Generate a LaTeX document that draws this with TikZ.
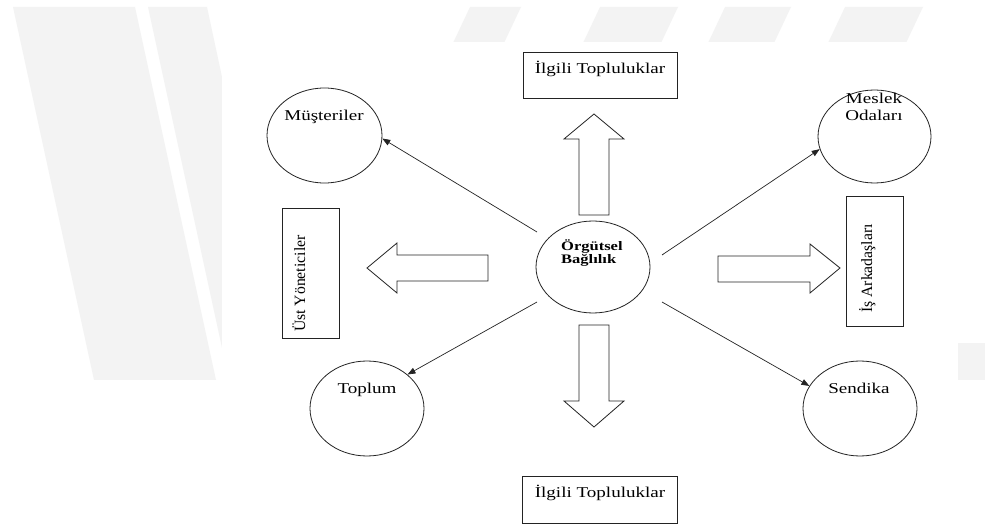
\documentclass[tikz,border=0pt]{standalone}
\usepackage{fontspec}
\setmainfont{Liberation Serif}[FakeStretch=1.27]
\newfontfamily\plainserif{Liberation Serif}
\newfontfamily\boldserif{Liberation Serif Bold}[FakeStretch=1.27]
\definecolor{markgray}{RGB}{243,243,243}
\definecolor{linegray}{RGB}{35,35,35}
\usetikzlibrary{shapes.geometric,arrows.meta,positioning,calc}

\begin{document}
\begin{tikzpicture}[x=1pt,y=-1pt,
    oval/.style={draw=linegray, line width=0.8pt, ellipse, inner sep=0pt,
        minimum width=114pt, minimum height=94pt},
    box/.style={draw=linegray, line width=0.8pt, rectangle, inner sep=0pt},
    lbl/.style={font=\fontsize{15}{17.6}\selectfont, inner sep=0pt, anchor=base},
    vlbl/.style={font=\plainserif\fontsize{15.7}{18}\selectfont, inner sep=0pt,
        rotate=90, anchor=base west},
    conn/.style={draw=linegray, line width=0.7pt, -{Triangle[length=8pt,width=6pt]}},
    fat/.style={draw=linegray, line width=0.8pt, fill=white, line join=miter}]

    % Page and faint watermark
    \useasboundingbox (0,0) rectangle (985,526);
    \fill[white] (0,0) rectangle (985,526);
    \fill[markgray] (13,7) -- (135,7) -- (216,380) -- (94,380) -- cycle;
    \fill[markgray] (148,7) -- (207,7) -- (287,380) -- (229,380) -- cycle;
    \fill[markgray] (470,7) -- (521,7) -- (496,60) -- (445,60) -- cycle;
    \fill[markgray] (600,7) -- (678,7) -- (653,60) -- (575,60) -- cycle;
    \fill[markgray] (725,7) -- (791,7) -- (766,60) -- (700,60) -- cycle;
    \fill[markgray] (845,7) -- (923,7) -- (898,60) -- (820,60) -- cycle;
    \fill[markgray] (958,343) -- (985,343) -- (985,380) -- (958,380) -- cycle;
    \fill[white] (222,42) rectangle (958,526);

    % Centre
    \node[oval, minimum height=92pt] (org) at (593,267) {};
    \node[font=\boldserif\fontsize{13}{12}\selectfont, align=left, inner sep=0pt,
        anchor=base west] (orgtxt) at (561,264) {Örgütsel\\Bağlılık};

    % Outer ovals
    \node[oval, minimum width=115pt, minimum height=95pt] (must) at (324.5,135.5) {};
    \node[lbl] (musttxt) at (324,121) {Müşteriler};
    \node[oval, minimum width=113pt, minimum height=93pt] (meslek) at (874.5,136.5) {};
    \node[lbl, align=center] (meslektxt) at (874,121) {Meslek\\Odaları};
    \node[oval, minimum height=95pt] (toplum) at (367,408.5) {};
    \node[lbl] (toplumtxt) at (367,393) {Toplum};
    \node[oval, minimum height=95pt] (sendika) at (860,408.5) {};
    \node[lbl] (sendikatxt) at (859,393) {Sendika};

    % Boxes
    \node[box, minimum width=154pt, minimum height=46pt] (ilgiup) at (600,75) {};
    \node[lbl] (ilgiuptxt) at (600,74) {İlgili Topluluklar};
    \node[box, minimum width=155pt, minimum height=47pt] (ilgidown) at (599.5,499.5) {};
    \node[lbl] (ilgidowntxt) at (600,497) {İlgili Topluluklar};
    \node[box, minimum width=57pt, minimum height=130pt] (ust) at (310.5,273) {};
    \node[vlbl] (usttxt) at (305,332) {Üst Yöneticiler};
    \node[box, minimum width=57pt, minimum height=130pt] (is) at (874.5,261) {};
    \node[vlbl] (istxt) at (872,313) {İş Arkadaşları};

    % Thin arrows
    \coordinate (ul) at ($(org)+(-56,-35)$);
    \coordinate (ur) at ($(org)+(69,-12)$);
    \coordinate (ll) at ($(org)+(-56,35)$);
    \coordinate (lr) at ($(org)+(69,35)$);
    \draw[conn] (ul) -- (must.-3);
    \draw[conn] (ur) -- (meslek.193);
    \draw[conn] (ll) -- (toplum.40);
    \draw[conn] (lr) -- (sendika.156);

    % Block arrows
    \draw[fat] (579,215) -- (579,139) -- (564,139) -- (594,114) -- (624,139)
        -- (609,139) -- (609,215) -- cycle;
    \draw[fat] (579,325) -- (579,401) -- (564,401) -- (594,427) -- (624,401)
        -- (609,401) -- (609,325) -- cycle;
    \draw[fat] (488,255) -- (397,255) -- (397,243) -- (367,268) -- (397,293)
        -- (397,281) -- (488,281) -- cycle;
    \draw[fat] (718,256) -- (810,256) -- (810,244) -- (840,268) -- (810,293)
        -- (810,282) -- (718,282) -- cycle;
\end{tikzpicture}
\end{document}
